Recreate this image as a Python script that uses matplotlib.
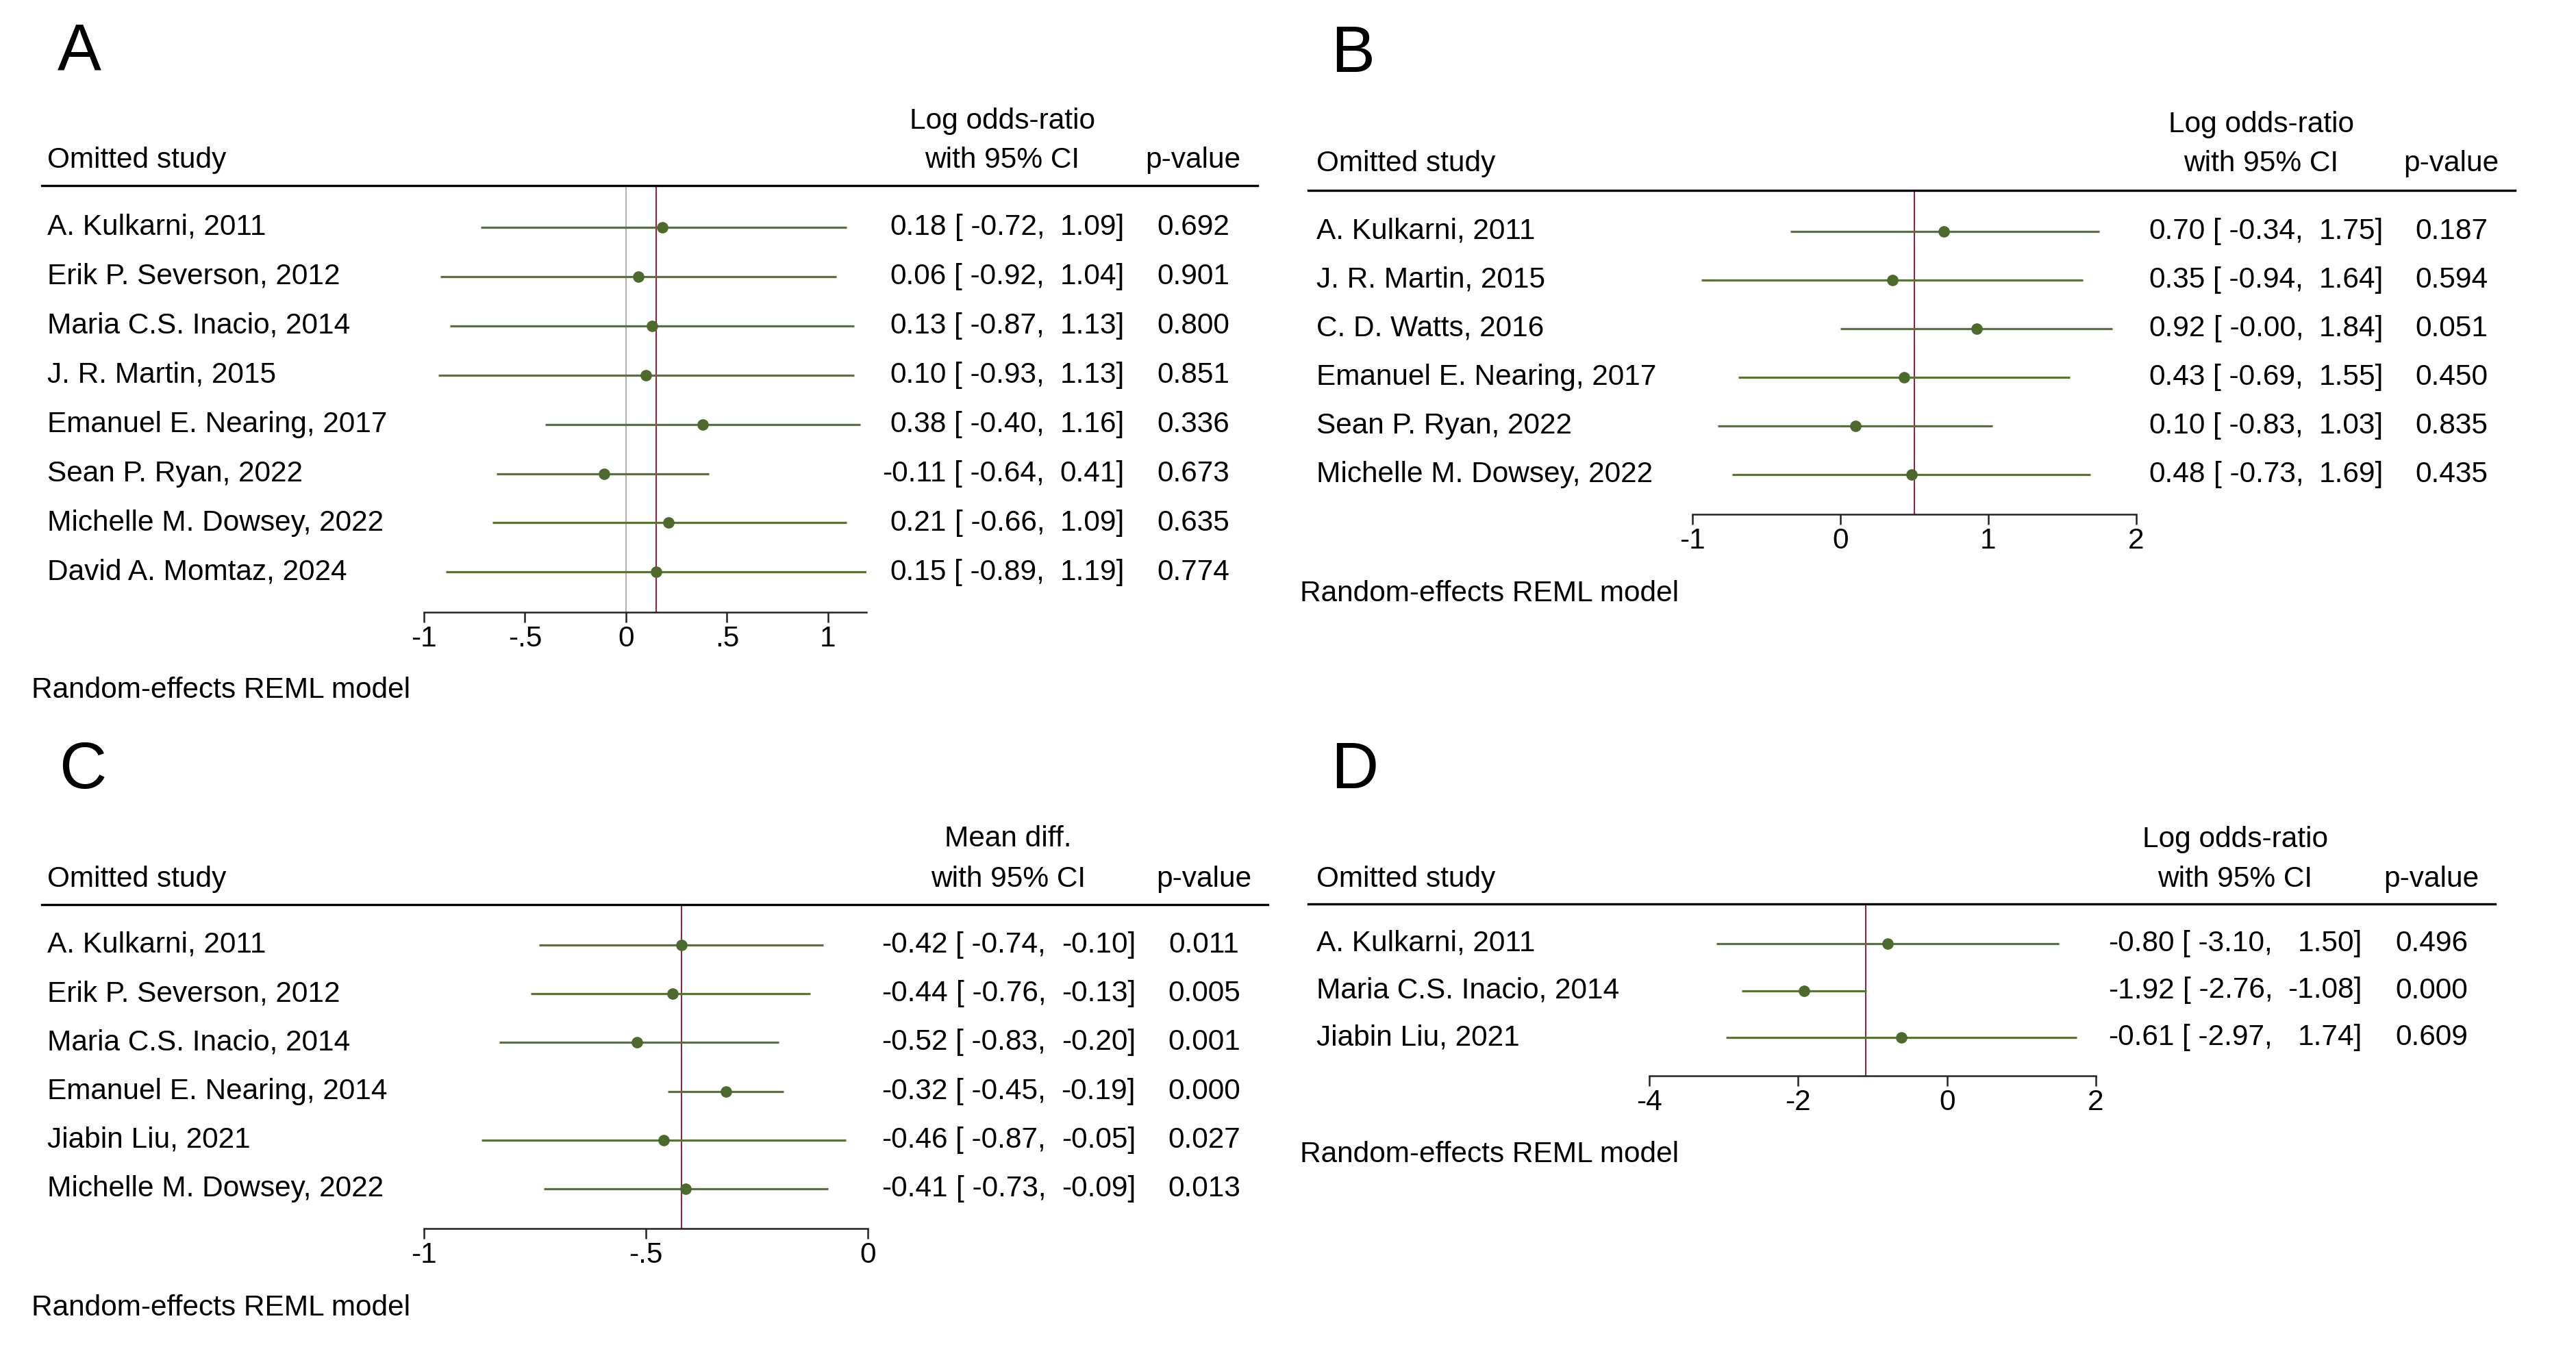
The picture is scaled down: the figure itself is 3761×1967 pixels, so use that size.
import numpy as np
import matplotlib.pyplot as plt
import matplotlib.transforms as mtransforms
from matplotlib.lines import Line2D

plt.rcParams['font.family'] = ['Liberation Sans', 'DejaVu Sans']

# ---- data: leave-one-out sensitivity analyses ----
# Panel A
studies_a = ["A. Kulkarni, 2011", "Erik P. Severson, 2012", "Maria C.S. Inacio, 2014",
             "J. R. Martin, 2015", "Emanuel E. Nearing, 2017", "Sean P. Ryan, 2022",
             "Michelle M. Dowsey, 2022", "David A. Momtaz, 2024"]
est_a = [0.18, 0.06, 0.13, 0.10, 0.38, -0.11, 0.21, 0.15]
lo_a = [-0.72, -0.92, -0.87, -0.93, -0.40, -0.64, -0.66, -0.89]
hi_a = [1.09, 1.04, 1.13, 1.13, 1.16, 0.41, 1.09, 1.19]
p_a = [0.692, 0.901, 0.800, 0.851, 0.336, 0.673, 0.635, 0.774]
overall_a = 0.15
ticks_a = [-1, -0.5, 0, 0.5, 1]
ticklabels_a = ['-1', '-.5', '0', '.5', '1']

# Panel B
studies_b = ["A. Kulkarni, 2011", "J. R. Martin, 2015", "C. D. Watts, 2016",
             "Emanuel E. Nearing, 2017", "Sean P. Ryan, 2022", "Michelle M. Dowsey, 2022"]
est_b = [0.70, 0.35, 0.92, 0.43, 0.10, 0.48]
lo_b = [-0.34, -0.94, -0.0, -0.69, -0.83, -0.73]
hi_b = [1.75, 1.64, 1.84, 1.55, 1.03, 1.69]
p_b = [0.187, 0.594, 0.051, 0.450, 0.835, 0.435]
overall_b = 0.50
ticks_b = [-1, 0, 1, 2]
ticklabels_b = ['-1', '0', '1', '2']

# Panel C
studies_c = ["A. Kulkarni, 2011", "Erik P. Severson, 2012", "Maria C.S. Inacio, 2014",
             "Emanuel E. Nearing, 2014", "Jiabin Liu, 2021", "Michelle M. Dowsey, 2022"]
est_c = [-0.42, -0.44, -0.52, -0.32, -0.46, -0.41]
lo_c = [-0.74, -0.76, -0.83, -0.45, -0.87, -0.73]
hi_c = [-0.10, -0.13, -0.20, -0.19, -0.05, -0.09]
p_c = [0.011, 0.005, 0.001, 0.000, 0.027, 0.013]
overall_c = -0.42
ticks_c = [-1, -0.5, 0]
ticklabels_c = ['-1', '-.5', '0']

# Panel D
studies_d = ["A. Kulkarni, 2011", "Maria C.S. Inacio, 2014", "Jiabin Liu, 2021"]
est_d = [-0.80, -1.92, -0.61]
lo_d = [-3.10, -2.76, -2.97]
hi_d = [1.50, -1.08, 1.74]
p_d = [0.496, 0.000, 0.609]
overall_d = -1.09
ticks_d = [-4, -2, 0, 2]
ticklabels_d = ['-4', '-2', '0', '2']

# ---- figure ----
W, H = 3762, 1967
fig = plt.figure(figsize=(W / 100, H / 100), dpi=100)
fig.patch.set_facecolor('white')

FS = 30.5
EM = FS / 72 * 100
CI_COLOR = '#5a7238'
DOT_COLOR = '#4c6a2c'
REF_COLOR = '#8e2648'


def fx(px):
    return px / W


def fy(py):
    return 1 - py / H


def draw_panel(letter, studies, est, lo, hi, pv, overall, xlim, ticks, ticklabels,
               hdr_top, lay, null_line=False):
    n = len(studies)
    ax = fig.add_axes([fx(lay['ax_left']), fy(lay['axis_y']),
                       (lay['ax_right'] - lay['ax_left']) / W,
                       (lay['axis_y'] - lay['header_y']) / H])
    ax.patch.set_visible(False)
    ax.set_xlim(*xlim)
    ax.set_ylim((lay['axis_y'] - lay['row0']) / lay['sp'],
                (lay['header_y'] - lay['row0']) / lay['sp'])
    for s in ['top', 'left', 'right']:
        ax.spines[s].set_visible(False)
    ax.spines['bottom'].set_linewidth(1.8)
    ax.spines['bottom'].set_color('#222222')
    ax.set_yticks([])
    ax.set_xticks(ticks)
    ax.set_xticklabels(ticklabels, fontsize=FS)
    ax.tick_params(axis='x', length=11, width=1.8, pad=3, color='#222222')

    y = np.arange(n)
    if null_line:
        ax.axvline(0, color='#a8a8a8', lw=1.3, zorder=1)
    ax.axvline(overall, color=REF_COLOR, lw=1.5, zorder=2)
    ax.hlines(y, lo, hi, color=CI_COLOR, lw=2.3, zorder=3)
    ax.plot(est, y, 'o', ms=11, color=DOT_COLOR, zorder=4)

    trans = mtransforms.blended_transform_factory(fig.transFigure, ax.transData)
    hr = lay['hi_right']
    # wider upper-bound field when any upper bound is negative
    gap = 3.09 if min(hi) < 0 else 2.76
    lo_r = hr - gap * EM
    est_r = lo_r - 3.39 * EM
    for i in range(n):
        ax.text(fx(lay['name_x']), y[i], studies[i], transform=trans, fontsize=FS,
                ha='left', va='center')
        ax.text(fx(est_r), y[i], f"{est[i]:.2f}", transform=trans, fontsize=FS,
                ha='right', va='center')
        ax.text(fx(lo_r), y[i], f"[ {lo[i]:.2f},", transform=trans, fontsize=FS,
                ha='right', va='center')
        ax.text(fx(hr), y[i], f"{hi[i]:.2f}]", transform=trans, fontsize=FS,
                ha='right', va='center')
        ax.text(fx(lay['p_x']), y[i], f"{pv[i]:.3f}", transform=trans, fontsize=FS,
                ha='center', va='center')

    # column headers
    ci_center = (est_r - 2.3 * EM + hr) / 2
    fig.text(fx(ci_center), fy(lay['hdr1_y']), hdr_top, fontsize=FS, ha='center', va='center')
    fig.text(fx(ci_center), fy(lay['hdr2_y']), "with 95% CI", fontsize=FS, ha='center', va='center')
    fig.text(fx(lay['p_x']), fy(lay['hdr2_y']), "p-value", fontsize=FS, ha='center', va='center')
    fig.text(fx(lay['name_x']), fy(lay['hdr2_y']), "Omitted study", fontsize=FS,
             ha='left', va='center')
    fig.add_artist(Line2D([fx(lay['line_x0']), fx(lay['line_x1'])],
                          [fy(lay['header_y']), fy(lay['header_y'])],
                          transform=fig.transFigure, color='black', lw=2.4))
    fig.text(fx(lay['note_x']), fy(lay['note_y']), "Random-effects REML model",
             fontsize=FS, ha='left', va='center')
    fig.text(fx(lay['letter_x']), fy(lay['letter_y']), letter, fontsize=69,
             ha='left', va='center')
    return ax


lay_a = dict(ax_left=619, ax_right=1265, header_y=271, axis_y=894, row0=331.5, sp=72,
             name_x=69, hi_right=1642, p_x=1742, line_x0=61, line_x1=1836,
             hdr1_y=177, hdr2_y=234, note_x=46, note_y=1008, letter_x=84, letter_y=76)
lay_b = dict(ax_left=2471, ax_right=3119, header_y=278, axis_y=751, row0=337.6, sp=71,
             name_x=1922, hi_right=3480, p_x=3579, line_x0=1910, line_x1=3672,
             hdr1_y=182, hdr2_y=239, note_x=1898, note_y=867, letter_x=1943, letter_y=80)
lay_c = dict(ax_left=619, ax_right=1267, header_y=1321, axis_y=1794, row0=1380, sp=71.2,
             name_x=69, hi_right=1658, p_x=1758, line_x0=61, line_x1=1851,
             hdr1_y=1225, hdr2_y=1284, note_x=46, note_y=1910, letter_x=86, letter_y=1126)
lay_d = dict(ax_left=2408, ax_right=3060, header_y=1320, axis_y=1571, row0=1378, sp=68.5,
             name_x=1922, hi_right=3449, p_x=3550, line_x0=1910, line_x1=3643,
             hdr1_y=1226, hdr2_y=1284, note_x=1898, note_y=1686, letter_x=1943, letter_y=1126)

draw_panel("A", studies_a, est_a, lo_a, hi_a, p_a, overall_a, (-1, 1.19),
           ticks_a, ticklabels_a, "Log odds-ratio", lay_a, null_line=True)
draw_panel("B", studies_b, est_b, lo_b, hi_b, p_b, overall_b, (-1, 2),
           ticks_b, ticklabels_b, "Log odds-ratio", lay_b)
draw_panel("C", studies_c, est_c, lo_c, hi_c, p_c, overall_c, (-1, 0),
           ticks_c, ticklabels_c, "Mean diff.", lay_c)
draw_panel("D", studies_d, est_d, lo_d, hi_d, p_d, overall_d, (-4, 2),
           ticks_d, ticklabels_d, "Log odds-ratio", lay_d)

fig.savefig("out.png", dpi=100, facecolor='white')
